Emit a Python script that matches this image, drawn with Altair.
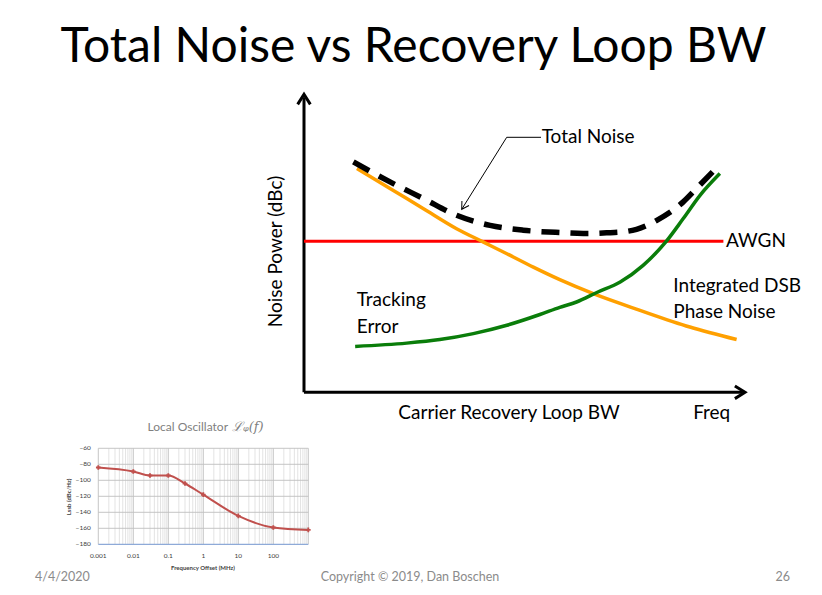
import altair as alt
import pandas as pd

# ---------------- data (main conceptual chart, arbitrary units 0..100) ----------------
ORANGE_X = [12.0, 19.5, 27.1, 34.6, 40.7, 46.0, 52.0, 58.0, 65.6, 76.2, 87.5, 98.1]
ORANGE_Y = [75.1, 68.4, 61.6, 54.9, 50.4, 46.5, 42.0, 37.8, 33.1, 27.5, 21.9, 17.7]
GREEN_X = [11.6, 23.3, 30.8, 38.4, 46.0, 53.5, 58.0, 61.8, 66.4, 71.7, 76.9, 81.9, 86.0, 89.8, 94.3]
GREEN_Y = [15.4, 16.5, 17.7, 19.7, 22.5, 26.1, 28.5, 30.3, 33.5, 37.0, 42.6, 50.2, 58.3, 66.1, 73.4]
TOTAL_X = [11.2, 19.5, 27.1, 34.6, 42.2, 49.7, 58.0, 63.3, 68.6, 73.2, 75.4, 80.0, 86.0, 89.0, 93.9]
TOTAL_Y = [77.3, 70.6, 65.0, 59.4, 56.0, 54.4, 53.6, 53.3, 53.5, 54.0, 54.7, 57.7, 63.9, 68.4, 75.9]
AWGN_X = [0, 95.1]
AWGN_Y = [50.7, 50.7]

# ---------------- data (inset: local oscillator phase noise) ----------------
LO_FREQ = [0.001, 0.01, 0.03, 0.1, 0.3, 1, 10, 100, 1000]
LO_DBC = [-84, -89, -94, -94, -104, -118, -144.5, -159, -162]
LO_MAJOR = [0.001, 0.01, 0.1, 1, 10, 100, 1000]
LO_MINOR = [m * d for d in [0.001, 0.01, 0.1, 1, 10, 100] for m in range(2, 10)]
LO_XTICKS = [0.001, 0.01, 0.1, 1, 10, 100]
LO_XLABELS = ["0.001", "0.01", "0.1", "1", "10", "100"]
LO_YTICKS = [-60, -80, -100, -120, -140, -160, -180]

FONT = "Lato"

# ---------------- scales ----------------
mx = alt.Scale(domain=[0, 100], range=[296, 737], nice=False, zero=False)
my = alt.Scale(domain=[0, 100], range=[384.3, 86.3], nice=False, zero=False)
ix = alt.Scale(type="log", domain=[0.001, 1000], range=[90.3, 300.3], nice=False)
iy = alt.Scale(domain=[-180, -60], range=[536.3, 440.3], nice=False, zero=False)


def curve(xs, ys, **kw):
    df = pd.DataFrame({"x": xs, "y": ys})
    return alt.Chart(df).mark_line(interpolate="monotone", **kw).encode(
        x=alt.X("x:Q", scale=mx, axis=None),
        y=alt.Y("y:Q", scale=my, axis=None),
        order="x:Q",
    )


awgn = curve(AWGN_X, AWGN_Y, color="#ff0000", strokeWidth=3)
orange = curve(ORANGE_X, ORANGE_Y, color="#ffa000", strokeWidth=3.5)
green = curve(GREEN_X, GREEN_Y, color="#0a7d0a", strokeWidth=3.5)
total = curve(TOTAL_X, TOTAL_Y, color="#000000", strokeWidth=5.5,
              strokeDash=[18, 11], strokeCap="butt")

# axes with arrowheads
yaxis = alt.Chart(pd.DataFrame({"x": [0], "y": [0], "y2": [99]})).mark_rule(
    strokeWidth=3, color="black").encode(
    x=alt.X("x:Q", scale=mx, axis=None), y=alt.Y("y:Q", scale=my, axis=None), y2="y2:Q")
xaxis = alt.Chart(pd.DataFrame({"x": [0], "x2": [99.5], "y": [0]})).mark_rule(
    strokeWidth=3, color="black").encode(
    x=alt.X("x:Q", scale=mx, axis=None), x2="x2:Q", y=alt.Y("y:Q", scale=my, axis=None))
yhead = alt.Chart(pd.DataFrame({"x": [0], "y": [100]})).mark_point(
    shape="M-1,1.6L0,0L1,1.6", size=160, strokeWidth=3, color="black",
    filled=False, opacity=1).encode(
    x=alt.X("x:Q", scale=mx, axis=None), y=alt.Y("y:Q", scale=my, axis=None))
xhead = alt.Chart(pd.DataFrame({"x": [100], "y": [0]})).mark_point(
    shape="M-1.6,-1L0,0L-1.6,1", size=160, strokeWidth=3, color="black",
    filled=False, opacity=1).encode(
    x=alt.X("x:Q", scale=mx, axis=None), y=alt.Y("y:Q", scale=my, axis=None))

main = alt.layer(yaxis, xaxis, yhead, xhead, awgn, orange, green, total)


def label(text, x, y, size=19, align="left", angle=None, color="black",
          baseline="middle", font=FONT, style=None, weight=None):
    kw = dict(align=align, baseline=baseline, fontSize=size, font=font, color=color)
    if angle is not None:
        kw["angle"] = angle
    if style is not None:
        kw["fontStyle"] = style
    if weight is not None:
        kw["fontWeight"] = weight
    return alt.Chart(pd.DataFrame({"t": [text]})).mark_text(**kw).encode(
        text="t:N", x=alt.value(x), y=alt.value(y))


# callout for "Total Noise"
callout_h = alt.Chart(pd.DataFrame({"a": [0]})).mark_rule(color="black", strokeWidth=1).encode(
    x=alt.value(533), x2=alt.value(498.7), y=alt.value(129.3), y2=alt.value(129.3))
callout_d = alt.Chart(pd.DataFrame({"a": [0]})).mark_rule(color="black", strokeWidth=1).encode(
    x=alt.value(498.7), x2=alt.value(453.9), y=alt.value(129.3), y2=alt.value(201))
callout_head = alt.Chart(pd.DataFrame({"a": [0]})).mark_point(
    shape="M-1,1.7L0,0L1,1.7", size=70, strokeWidth=1, color="black",
    filled=False, opacity=1).encode(
    x=alt.value(453.7), y=alt.value(201.3), angle=alt.value(212))

main_labels = [
    label("Total Noise", 533.7, 128.7),
    label("AWGN", 718, 233),
    label("Integrated DSB", 665.3, 278),
    label("Phase Noise", 665.3, 304),
    label("Tracking", 348.7, 292),
    label("Error", 348.7, 318.7),
    label("Carrier Recovery Loop BW", 501, 405.3, align="center"),
    label("Freq", 703.7, 405.3, align="center"),
    label("Noise Power (dBc)", 268, 243.5, align="center", angle=270),
    label("Total Noise vs Recovery Loop BW", 405.5, 54, size=48, align="center",
          baseline="alphabetic"),
    label("4/4/2020", 27, 569, size=12.5, color="#8b8b8b"),
    label("Copyright \u00a9 2019, Dan Boschen", 402, 569, size=12.5,
          color="#8b8b8b", align="center"),
    label("26", 782, 569, size=12.5, color="#8b8b8b", align="right"),
]

# ---------------- inset ----------------
minor = alt.Chart(pd.DataFrame({"f": LO_MINOR})).mark_rule(color="#dcdcdc", strokeWidth=0.8).encode(
    x=alt.X("f:Q", scale=ix, axis=None), y=alt.value(440.3), y2=alt.value(536.3))
major = alt.Chart(pd.DataFrame({"f": LO_MAJOR})).mark_rule(color="#bfbfbf", strokeWidth=0.9).encode(
    x=alt.X("f:Q", scale=ix, axis=None), y=alt.value(440.3), y2=alt.value(536.3))
hgrid = alt.Chart(pd.DataFrame({"v": LO_YTICKS[:-1]})).mark_rule(color="#bfbfbf", strokeWidth=0.9).encode(
    y=alt.Y("v:Q", scale=iy, axis=None), x=alt.value(90.3), x2=alt.value(300.3))
base = alt.Chart(pd.DataFrame({"v": [-180]})).mark_rule(color="#8eaad8", strokeWidth=1.2).encode(
    y=alt.Y("v:Q", scale=iy, axis=None), x=alt.value(90.3), x2=alt.value(300.3))

lo_df = pd.DataFrame({"f": LO_FREQ, "d": LO_DBC})
lo_line = alt.Chart(lo_df).mark_line(color="#c0504d", strokeWidth=2, interpolate="monotone").encode(
    x=alt.X("f:Q", scale=ix, axis=None), y=alt.Y("d:Q", scale=iy, axis=None))
lo_pts = alt.Chart(lo_df).mark_point(shape="cross", filled=True, size=22, color="#c0504d",
                                     opacity=1).encode(
    x=alt.X("f:Q", scale=ix, axis=None), y=alt.Y("d:Q", scale=iy, axis=None))

xlab = alt.Chart(pd.DataFrame({"f": LO_XTICKS, "t": LO_XLABELS})).mark_text(
    fontSize=6.5, font=FONT, color="#404040", baseline="middle", align="center").encode(
    x=alt.X("f:Q", scale=ix, axis=None), y=alt.value(548), text="t:N")
ylab = alt.Chart(pd.DataFrame({"v": LO_YTICKS})).mark_text(
    fontSize=6.5, font=FONT, color="#404040", baseline="middle", align="right").encode(
    y=alt.Y("v:Q", scale=iy, axis=None), x=alt.value(82.7), text="v:Q")

inset = alt.layer(minor, major, hgrid, base, lo_line, lo_pts, xlab, ylab)

inset_labels = [
    label("Local Oscillator", 220, 419, size=12, color="#7f7f7f", align="right"),
    label("\u2112\u1d69(f)", 224, 419, size=13, color="#7f7f7f", font="DejaVu Serif",
          style="italic"),
    label("Lssb (dBc/Hz)", 61, 489, size=6, angle=270, align="center", weight="bold",
          color="#404040"),
    label("Frequency Offset (MHz)", 195, 560, size=6, align="center", weight="bold",
          color="#404040"),
]

chart = alt.layer(
    main, inset, callout_h, callout_d, callout_head, *main_labels, *inset_labels
).resolve_scale(x="independent", y="independent").properties(
    width=806, height=579, padding=0, autosize=alt.AutoSizeParams(type="none"),
    background="white"
).configure_view(stroke=None)

chart.save("out.html", embed_options={"renderer": "svg", "actions": False})
